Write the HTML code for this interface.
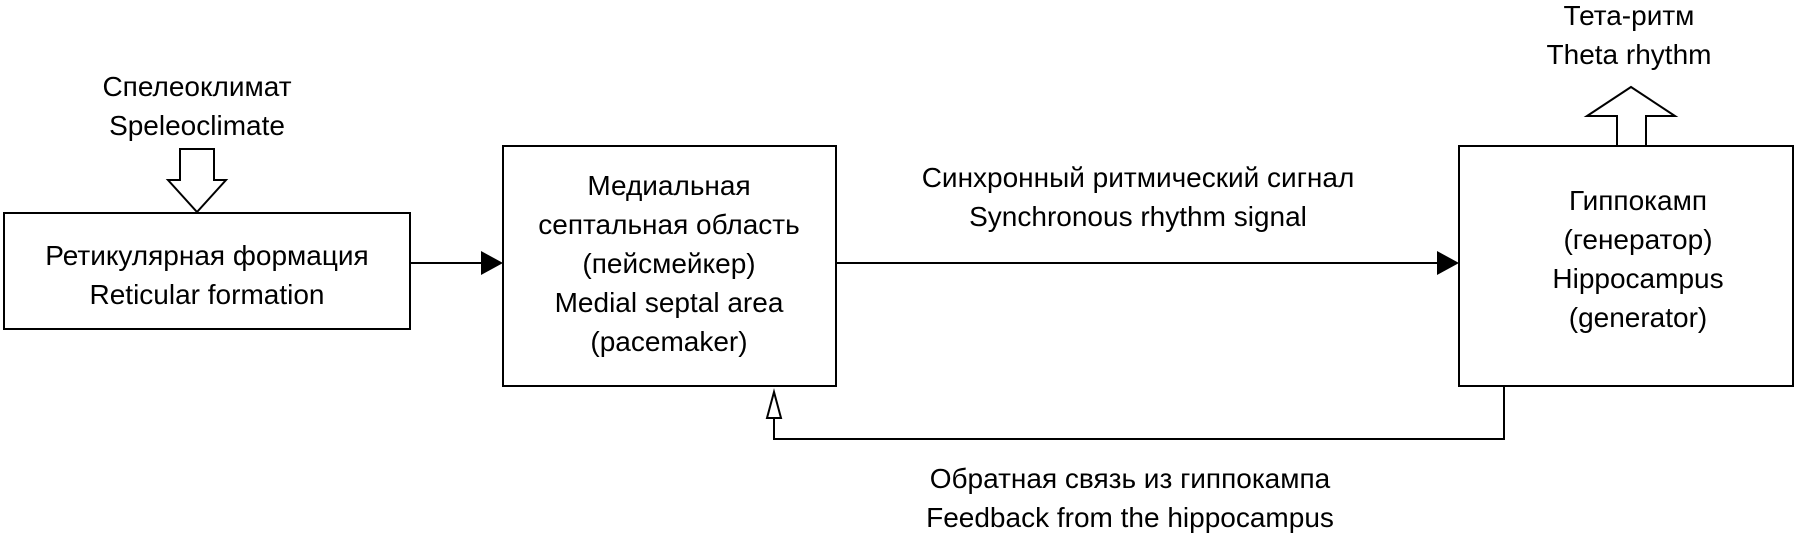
<!DOCTYPE html>
<html><head><meta charset="utf-8"><style>
html,body{margin:0;padding:0;background:#fff;}
body{width:1799px;height:535px;position:relative;overflow:hidden;font-family:"Liberation Sans","Noto Sans CJK SC",sans-serif;color:#000;}
.t{position:absolute;text-align:center;font-size:28px;line-height:39px;white-space:nowrap;transform:translateX(-50%);}
svg{position:absolute;left:0;top:0;}
</style></head><body>
<svg width="1799" height="535" viewBox="0 0 1799 535">
<g fill="none" stroke="#000" stroke-width="2">
<rect x="4" y="213" width="406" height="116"/>
<rect x="503" y="146" width="333" height="240"/>
<rect x="1459" y="146" width="334" height="240"/>
<line x1="410" y1="263" x2="483" y2="263"/>
<line x1="836" y1="263" x2="1439" y2="263"/>
<polyline points="1504,386 1504,439 774,439 774,418"/>
<polygon points="774,392 767,418 781,418" fill="#fff"/>
<polygon points="180,149 214,149 214,180 226,180 197,212 168,180 180,180" fill="#fff"/>
<polygon points="1617,146 1617,116 1587,116 1631,87 1675,116 1646,116 1646,146" fill="#fff"/>
</g>
<polygon points="503,263 481,251 481,275" fill="#000"/>
<polygon points="1459,263 1437,251 1437,275" fill="#000"/>
</svg>
<div class="t" style="left:197px;top:67px">Спелеоклимат<br>Speleoclimate</div>
<div class="t" style="left:207px;top:236px">Ретикулярная формация<br>Reticular formation</div>
<div class="t" style="left:669px;top:166px">Медиальная<br>септальная область<br>(пейсмейкер)<br>Medial septal area<br>(pacemaker)</div>
<div class="t" style="left:1138px;top:158px">Синхронный ритмический сигнал<br>Synchronous rhythm signal</div>
<div class="t" style="left:1638px;top:181px">Гиппокамп<br>(генератор)<br>Hippocampus<br>(generator)</div>
<div class="t" style="left:1629px;top:-4px">Тета-ритм<br>Theta rhythm</div>
<div class="t" style="left:1130px;top:459px">Обратная связь из гиппокампа<br>Feedback from the hippocampus</div>
</body></html>
